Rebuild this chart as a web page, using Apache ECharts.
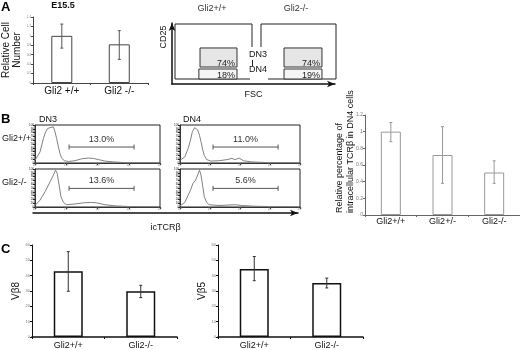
<!DOCTYPE html>
<html><head><meta charset="utf-8">
<script src="https://cdn.jsdelivr.net/npm/echarts@6/dist/echarts.min.js"></script>
<style>html,body{margin:0;padding:0;background:#fff}#c{width:520px;height:350px}</style>
</head><body><div id="c"></div>
<script>
const FONT = '"Liberation Sans", Arial, sans-serif';

// ---- Panel A: relative cell number (E15.5)
const A_categories = ['Gli2 +/+', 'Gli2 -/-'];
const A_values = [1.0, 0.82];
const A_errHigh = [1.25, 1.11];
const A_errLow = [0.74, 0.50];

// ---- Panel A: flow gates [FSC1, CD25_1, FSC2, CD25_2] in % of plot range
const A_flowLeftGates = [[32.5, 21.8, 80.5, 56.4], [31, 0, 80.5, 18.2]];
const A_flowRightGates = [[30.7, 21.8, 81.3, 56.4], [30.7, 0, 81.3, 18.2]];
const A_flowLeftPct = ['74%', '18%'];
const A_flowRightPct = ['74%', '19%'];
const A_gateFills = ['#e6e6e6', '#f5f5f5'];

// ---- Panel B: icTCRb histograms [log10 intensity, % of max]
const B_DN3_wt = [[0,7],[0.16,29],[0.27,65],[0.34,82],[0.41,91],[0.48,93],[0.53,97],[0.59,95],[0.64,82],[0.69,65],[0.75,42],[0.8,25],[0.85,13],[0.94,6],[1.07,4],[1.28,6],[1.49,11],[1.71,13],[1.87,12],[2.03,9],[2.24,5],[2.51,3],[2.88,1],[3.95,0.5]];
const B_DN3_ko = [[0,4],[0.16,18],[0.32,40],[0.43,58],[0.51,71],[0.59,84],[0.66,97],[0.71,88],[0.77,58],[0.83,27],[0.91,12],[1.01,6],[1.28,8],[1.55,11],[1.81,12],[1.97,11],[2.24,6],[2.56,3],[3.09,1],[3.95,0.5]];
const B_DN4_wt = [[0,7],[0.16,16],[0.27,38],[0.35,60],[0.41,82],[0.49,93],[0.54,96],[0.59,87],[0.65,73],[0.7,56],[0.76,34],[0.81,20],[0.89,9],[1.03,5],[1.3,6],[1.57,9],[1.73,12],[1.84,9],[1.97,13],[2.11,6],[2.38,3],[2.92,1],[3.95,0.5]];
const B_DN4_ko = [[0,3],[0.16,12],[0.27,31],[0.35,44],[0.43,62],[0.52,71],[0.59,84],[0.65,97],[0.7,84],[0.76,53],[0.81,27],[0.89,12],[0.97,6],[1.3,4],[1.84,6],[2.05,4],[2.49,2],[3.14,1],[3.95,0.5]];
const B_xTickLabels = ['10\u2070', '10\u00b9', '10\u00b2', '10\u00b3', '10\u2074'];
// gates [start, end, level]
const B_gates = [[1.09, 3.17, 42], [1.09, 3.17, 49], [1.1, 3.27, 42], [1.1, 3.27, 49]];
const B_gateLabels = ['13.0%', '13.6%', '11.0%', '5.6%'];

// ---- Panel B: relative percentage of icTCRb in DN4
const B_categories = ['Gli2+/+', 'Gli2+/-', 'Gli2-/-'];
const B_values = [1.0, 0.72, 0.51];
const B_errHigh = [1.11, 1.06, 0.65];
const B_errLow = [0.88, 0.38, 0.38];

// ---- Panel C: Vb8 and Vb5
const C_categories = ['Gli2+/+', 'Gli2-/-'];
const C_vb8 = [42.8, 29.8];
const C_vb8High = [55.7, 33.7];
const C_vb8Low = [29.8, 25.7];
const C_vb5 = [44.4, 35.2];
const C_vb5High = [52.5, 38.4];
const C_vb5Low = [36.7, 32.0];

function errData(hi, lo) { return hi.map((h, i) => [i, h, lo[i]]); }
function errRender(cap, color, lw) {
  return function (params, api) {
    const c = api.value(0);
    const p1 = api.coord([c, api.value(1)]);
    const p2 = api.coord([c, api.value(2)]);
    const st = { stroke: color, lineWidth: lw };
    return { type: 'group', children: [
      { type: 'line', shape: { x1: p1[0], y1: p1[1], x2: p2[0], y2: p2[1] }, style: st },
      { type: 'line', shape: { x1: p1[0] - cap, y1: p1[1], x2: p1[0] + cap, y2: p1[1] }, style: st },
      { type: 'line', shape: { x1: p2[0] - cap, y1: p2[1], x2: p2[0] + cap, y2: p2[1] }, style: st }
    ] };
  };
}
function flowGateRender(labels) {
  return function (params, api) {
    const i = params.dataIndex;
    const p1 = api.coord([api.value(0), api.value(1)]);
    const p2 = api.coord([api.value(2), api.value(3)]);
    return { type: 'group', children: [
      { type: 'rect', shape: { x: p1[0], y: p2[1], width: p2[0] - p1[0], height: p1[1] - p2[1] },
        style: { fill: A_gateFills[i], stroke: '#333', lineWidth: 1 } },
      { type: 'text', x: p2[0] - 2, y: p1[1] + 1,
        style: { text: labels[i], fill: '#222', font: '9px ' + FONT, align: 'right', verticalAlign: 'bottom', textAlign: 'right', textVerticalAlign: 'bottom' } }
    ] };
  };
}
function histGateRender(label) {
  return function (params, api) {
    const a = api.coord([api.value(0), api.value(2)]);
    const b = api.coord([api.value(1), api.value(2)]);
    const st = { stroke: '#555', lineWidth: 1 };
    return { type: 'group', children: [
      { type: 'line', shape: { x1: a[0], y1: a[1], x2: b[0], y2: b[1] }, style: st },
      { type: 'line', shape: { x1: a[0], y1: a[1] - 2.5, x2: a[0], y2: a[1] + 2.5 }, style: st },
      { type: 'line', shape: { x1: b[0], y1: b[1] - 2.5, x2: b[0], y2: b[1] + 2.5 }, style: st },
      { type: 'text', x: (a[0] + b[0]) / 2, y: a[1] - 3,
        style: { text: label, fill: '#333', font: '9px ' + FONT, align: 'center', verticalAlign: 'bottom', textAlign: 'center', textVerticalAlign: 'bottom' } }
    ] };
  };
}
function T(text, x, y, size, align, valign, extra) {
  return { type: 'text', x: x, y: y, z: 100, rotation: (extra && extra.rotation) || 0,
    style: Object.assign({ text: text, fill: '#111', font: size + 'px ' + FONT,
      align: align, verticalAlign: valign, textAlign: align, textVerticalAlign: valign },
      (extra && extra.style) || {}) };
}

const frame = { show: true, borderColor: '#222', borderWidth: 1, backgroundColor: 'transparent' };
const grids = [
  { left: 32, top: 17, width: 116, height: 66 },
  Object.assign({ left: 175, top: 24, width: 77, height: 55 }, frame),
  Object.assign({ left: 261, top: 24, width: 75, height: 55 }, frame),
  { left: 172, top: 23, width: 163, height: 61 },
  Object.assign({ left: 35, top: 125, width: 125, height: 38 }, frame),
  Object.assign({ left: 35, top: 169, width: 125, height: 38 }, frame),
  Object.assign({ left: 180, top: 125, width: 120, height: 38 }, frame),
  Object.assign({ left: 180, top: 169, width: 120, height: 38 }, frame),
  { left: 33, top: 212, width: 265, height: 1 },
  { left: 365, top: 115, width: 155, height: 100 },
  { left: 32, top: 245, width: 145, height: 93 },
  { left: 218, top: 245, width: 145, height: 93 }
];

const hidden = (g) => ({ gridIndex: g, type: 'value', min: 0, max: 100, show: false });
function histX(g) {
  return { gridIndex: g, type: 'value', min: 0, max: 4, interval: 1,
    axisLine: { show: true, lineStyle: { color: '#333' } },
    axisTick: { show: true, length: 2, lineStyle: { color: '#333' } },
    axisLabel: { show: true, fontSize: 3, color: '#777', margin: 1, formatter: (v) => B_xTickLabels[v] || '' },
    splitLine: { show: false } };
}
function histY(g) {
  return { gridIndex: g, type: 'value', min: 0, max: 100, interval: 10,
    axisLine: { show: true, lineStyle: { color: '#333' } },
    axisTick: { show: true, length: 2, lineStyle: { color: '#222' } },
    axisLabel: { show: true, fontSize: 3, color: '#222', margin: 1 },
    splitLine: { show: false } };
}
function catX(g, cats, size, color, lw, margin) {
  return { gridIndex: g, type: 'category', data: cats,
    axisLine: { show: true, lineStyle: { color: color, width: lw } },
    axisTick: { show: true, length: 2, lineStyle: { color: color } },
    axisLabel: { fontSize: size, color: '#111', margin: margin, fontFamily: FONT },
    splitLine: { show: false } };
}
function valY(g, max, interval, labelSize, color, name, nameGap) {
  return { gridIndex: g, type: 'value', min: 0, max: max, interval: interval,
    axisLine: { show: true, lineStyle: { color: color } },
    axisTick: { show: true, length: 2, lineStyle: { color: color } },
    axisLabel: { fontSize: labelSize, color: '#777', margin: 2, fontFamily: FONT },
    splitLine: { show: false },
    name: name, nameLocation: 'middle', nameGap: nameGap,
    nameTextStyle: { fontSize: 10, color: '#111', fontFamily: FONT, lineHeight: 11 } };
}
const arrowLine = { show: true, symbol: ['none', 'arrow'], symbolSize: [5, 8], lineStyle: { color: '#111', width: 1.5 } };

const xAxes = [
  catX(0, A_categories, 10, '#444', 1, 3),
  hidden(1), hidden(2),
  { gridIndex: 3, type: 'value', min: 0, max: 1, axisLine: arrowLine, axisTick: { show: false }, axisLabel: { show: false }, splitLine: { show: false },
    name: 'FSC', nameLocation: 'middle', nameGap: 6, nameTextStyle: { fontSize: 9, color: '#111', fontFamily: FONT } },
  histX(4), histX(5), histX(6), histX(7),
  { gridIndex: 8, type: 'value', min: 0, max: 1, axisLine: arrowLine, axisTick: { show: false }, axisLabel: { show: false }, splitLine: { show: false },
    name: 'icTCR\u03b2', nameLocation: 'middle', nameGap: 10, nameTextStyle: { fontSize: 9, color: '#111', fontFamily: FONT } },
  catX(9, B_categories, 9, '#666', 1, 2),
  catX(10, C_categories, 9, '#111', 1.5, 4),
  catX(11, C_categories, 9, '#111', 1.5, 4)
];
const yAxes = [
  valY(0, 1.4, 0.2, 3, '#444', 'Relative Cell\nNumber', 2),
  hidden(1), hidden(2),
  { gridIndex: 3, type: 'value', min: 0, max: 1, axisLine: arrowLine, axisTick: { show: false }, axisLabel: { show: false }, splitLine: { show: false } },
  histY(4), histY(5), histY(6), histY(7),
  { gridIndex: 8, type: 'value', min: 0, max: 1, show: false },
  valY(9, 1.2, 0.2, 5, '#666', '', 0),
  valY(10, 60, 10, 4, '#111', 'V\u03b28', 8),
  valY(11, 60, 10, 4, '#111', 'V\u03b25', 8)
];

function bar(ax, data, width, border, bw) {
  return { type: 'bar', xAxisIndex: ax, yAxisIndex: ax, data: data, barWidth: width,
    itemStyle: { color: '#fff', borderColor: border, borderWidth: bw }, silent: true };
}
function err(ax, hi, lo, color, lw, cap) {
  return { type: 'custom', xAxisIndex: ax, yAxisIndex: ax, data: errData(hi, lo), encode: { x: 0, y: [1, 2] },
    renderItem: errRender(cap, color, lw), silent: true, z: 5 };
}
function hist(ax, data) {
  return { type: 'line', xAxisIndex: ax, yAxisIndex: ax, data: data, showSymbol: false, symbol: 'none',
    lineStyle: { color: '#808080', width: 1 }, silent: true };
}
function histGate(ax, i) {
  return { type: 'custom', xAxisIndex: ax, yAxisIndex: ax, data: [B_gates[i]], encode: { x: [0, 1], y: 2 },
    renderItem: histGateRender(B_gateLabels[i]), silent: true, z: 5 };
}

const series = [
  bar(0, A_values, 21, '#444', 1), err(0, A_errHigh, A_errLow, '#555', 1, 1.5),
  { type: 'custom', xAxisIndex: 1, yAxisIndex: 1, data: A_flowLeftGates, encode: { x: [0, 2], y: [1, 3] }, renderItem: flowGateRender(A_flowLeftPct), silent: true },
  { type: 'custom', xAxisIndex: 2, yAxisIndex: 2, data: A_flowRightGates, encode: { x: [0, 2], y: [1, 3] }, renderItem: flowGateRender(A_flowRightPct), silent: true },
  hist(4, B_DN3_wt), hist(5, B_DN3_ko), hist(6, B_DN4_wt), hist(7, B_DN4_ko),
  histGate(4, 0), histGate(5, 1), histGate(6, 2), histGate(7, 3),
  bar(9, B_values, 20, '#999', 1), err(9, B_errHigh, B_errLow, '#999', 1, 1.5),
  bar(10, C_vb8, 29, '#111', 1.5), err(10, C_vb8High, C_vb8Low, '#333', 1, 1.5),
  bar(11, C_vb5, 29, '#111', 1.5), err(11, C_vb5High, C_vb5Low, '#333', 1, 1.5)
];

const graphic = [
  { type: 'rect', z: 90, shape: { x: 250, y: 47, width: 18, height: 34 }, style: { fill: '#fff' } },
  { type: 'line', z: 95, shape: { x1: 252.5, y1: 60, x2: 252.5, y2: 66 }, style: { stroke: '#222', lineWidth: 1 } },
  T('A', 1, 1, 13, 'left', 'top', { style: { font: 'bold 13px ' + FONT, fill: '#000' } }),
  T('E15.5', 63, 6, 9, 'center', 'middle', { style: { font: 'bold 9px ' + FONT } }),
  T('Gli2+/+', 212, 9, 9, 'center', 'middle', { style: { fill: '#333' } }),
  T('Gli2-/-', 296, 9, 9, 'center', 'middle', { style: { fill: '#333' } }),
  T('CD25', 164, 37, 9, 'center', 'middle', { rotation: Math.PI / 2 }),
  T('DN3', 258, 55, 9, 'center', 'middle'),
  T('DN4', 258, 70, 9, 'center', 'middle'),
  T('B', 1, 113, 13, 'left', 'top', { style: { font: 'bold 13px ' + FONT, fill: '#000' } }),
  T('DN3', 48, 120, 9, 'center', 'middle'),
  T('DN4', 192, 120, 9, 'center', 'middle'),
  T('Gli2+/+', 2, 139, 9, 'left', 'middle'),
  T('Gli2-/-', 2, 183, 9, 'left', 'middle'),
  T('Relative percentage of\nintracellular TCR\u03b2 in DN4 cells', 345, 213, 9, 'left', 'middle',
    { rotation: Math.PI / 2, style: { lineHeight: 11 } }),
  T('C', 1, 243, 13, 'left', 'top', { style: { font: 'bold 13px ' + FONT, fill: '#000' } })
];

const chart = echarts.init(document.getElementById('c'), null, { renderer: 'canvas' });
chart.setOption({
  animation: false,
  backgroundColor: '#fff',
  textStyle: { fontFamily: FONT },
  grid: grids, xAxis: xAxes, yAxis: yAxes, series: series, graphic: { elements: graphic }
});
</script></body></html>
